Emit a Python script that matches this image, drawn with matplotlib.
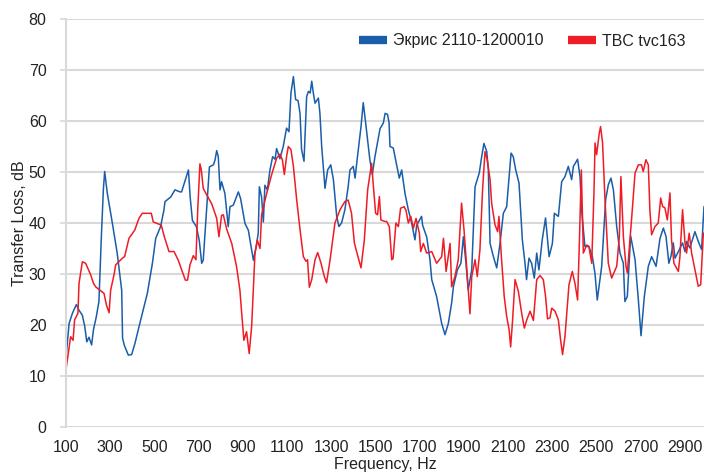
import matplotlib
matplotlib.use("Agg")
import matplotlib.pyplot as plt
from matplotlib.lines import Line2D

plt.rcParams["font.family"] = ["Liberation Sans", "DejaVu Sans"]

# Экрис 2110-1200010 (blue)
freq_ekris = [
    99, 114, 129, 147, 159, 174, 185, 194, 204, 216, 224, 237, 249, 260, 269, 275,
    287, 310, 332, 352, 356, 364, 382, 397, 412, 438, 468, 491, 506, 528, 543, 548,
    574, 593, 616, 623, 654, 662, 672, 690, 703, 714, 721, 736, 749, 767, 774, 782,
    789, 797, 804, 819, 834, 842, 857, 880, 890, 910, 925, 948, 960, 970, 975, 985,
    993, 1000, 1011, 1023, 1035, 1046, 1053, 1068, 1083, 1098, 1109, 1118, 1129,
    1139, 1150, 1159, 1166, 1177, 1189, 1197, 1205, 1212, 1219, 1227, 1242, 1249,
    1257, 1272, 1284, 1298, 1310, 1325, 1335, 1347, 1362, 1377, 1385, 1400, 1408,
    1420, 1435, 1445, 1456, 1475, 1486, 1498, 1521, 1536, 1544, 1555, 1562, 1566,
    1581, 1596, 1608, 1619, 1634, 1649, 1664, 1679, 1687, 1709, 1714, 1732, 1747,
    1755, 1777, 1800, 1815, 1830, 1845, 1853, 1871, 1887, 1898, 1910, 1920, 1936,
    1951, 1970, 1981, 1991, 2004, 2011, 2019, 2034, 2049, 2064, 2079, 2094, 2114,
    2124, 2135, 2150, 2165, 2177, 2184, 2195, 2207, 2219, 2230, 2240, 2255, 2270,
    2286, 2301, 2310, 2328, 2343, 2358, 2373, 2388, 2396, 2415, 2426, 2433, 2448,
    2466, 2482, 2494, 2504, 2524, 2542, 2554, 2566, 2577, 2592, 2607, 2622, 2629,
    2640, 2655, 2675, 2690, 2702, 2717, 2735, 2750, 2770, 2788, 2803, 2815, 2828,
    2837, 2848, 2856, 2871, 2890, 2901, 2908, 2923, 2946, 2961, 2976, 2987,
]
tl_ekris = [
    13.1, 20.3, 22.3, 24.0, 22.9, 21.9, 19.7, 16.7, 17.6, 16.1, 19.0, 21.6, 24.6, 37.3, 46.5, 50.1,
    45.8, 39.9, 34.0, 26.8, 17.4, 16.0, 14.1, 14.2, 16.4, 21.0, 26.2, 32.1, 37.0, 39.3, 42.5, 44.2,
    45.1, 46.5, 46.1, 46.1, 50.4, 45.0, 40.5, 39.3, 36.6, 32.1, 32.7, 42.5, 51.0, 51.4, 52.3, 54.2,
    53.0, 46.5, 48.1, 45.8, 39.3, 43.2, 43.5, 46.1, 44.8, 39.9, 38.6, 32.7, 35.3, 38.0, 47.1, 45.1,
    40.2, 47.4, 46.5, 50.4, 53.0, 52.5, 54.6, 52.6, 55.0, 58.6, 57.9, 65.5, 68.7,
    64.2, 64.0, 61.5, 54.4, 52.1, 64.8, 65.8, 65.5, 67.8, 65.5, 63.5, 64.5, 61.5,
    55.0, 46.8, 50.4, 51.4, 48.5, 41.3, 39.3, 40.0, 42.6, 47.2, 50.4, 51.1, 48.8,
    53.4, 58.9, 63.6, 59.6, 52.4, 49.5, 53.0, 58.5, 59.6, 61.5, 61.3, 59.6, 55.0,
    54.7, 51.4, 48.8, 50.4, 45.8, 42.6, 40.0, 36.7, 39.6, 41.3, 39.5, 37.3, 32.8,
    28.9, 25.6, 20.3, 18.1, 20.3, 24.3, 27.5, 30.8, 32.1, 37.3, 32.1, 26.9, 30.8,
    47.1, 49.8, 53.0, 55.6, 54.0, 50.5, 36.0, 33.4, 31.2, 36.0, 41.9, 43.2, 53.7,
    53.0, 50.4, 47.8, 36.7, 32.1, 28.9, 33.1, 32.1, 29.2, 34.1, 30.8, 36.7, 41.0,
    33.4, 36.0, 41.9, 41.3, 48.1, 49.1, 51.1, 48.5, 51.1, 52.5, 49.1, 42.6, 35.4,
    35.4, 33.4, 30.0, 24.9, 31.5, 44.6, 47.5, 48.8, 46.5, 39.3, 34.1, 32.1, 24.6,
    25.6, 37.5, 32.8, 24.9, 17.9, 25.6, 31.5, 33.4, 31.5, 37.0, 39.0, 37.4, 32.1,
    33.4, 36.1, 33.1, 34.4, 36.1, 34.4, 36.4, 35.1, 38.3, 36.4, 34.8, 43.2,
]

# TBC tvc163 (red)
freq_tbc = [
    99, 109, 121, 132, 139, 154, 159, 174, 189, 212, 224, 234, 254, 272, 283, 295,
    302, 317, 325, 355, 365, 385, 411, 430, 445, 486, 495, 531, 543, 566, 589, 608,
    628, 640, 650, 661, 676, 688, 696, 706, 712, 721, 733, 759, 782, 792, 804, 812,
    827, 850, 872, 887, 895, 905, 917, 929, 940, 955, 966, 978, 985, 1008, 1030,
    1053, 1068, 1079, 1088, 1098, 1106, 1118, 1129, 1144, 1159, 1174, 1186, 1193,
    1201, 1212, 1227, 1239, 1254, 1269, 1279, 1295, 1317, 1340, 1362, 1377, 1392,
    1405, 1415, 1435, 1450, 1465, 1483, 1491, 1501, 1510, 1518, 1525, 1543, 1551,
    1563, 1574, 1580, 1593, 1604, 1614, 1630, 1639, 1649, 1660, 1672, 1684, 1699,
    1705, 1717, 1732, 1755, 1777, 1800, 1808, 1820, 1838, 1845, 1860, 1875, 1890,
    1901, 1916, 1928, 1936, 1951, 1961, 1973, 1985, 1996, 2006, 2019, 2026, 2041,
    2053, 2059, 2071, 2083, 2094, 2105, 2112, 2120, 2132, 2147, 2162, 2174, 2185,
    2200, 2215, 2230, 2245, 2260, 2270, 2279, 2290, 2298, 2313, 2328, 2338, 2347,
    2358, 2376, 2391, 2403, 2415, 2423, 2432, 2441, 2456, 2466, 2479, 2489, 2494,
    2501, 2513, 2519, 2528, 2539, 2554, 2569, 2592, 2604, 2611, 2622, 2634, 2640,
    2659, 2675, 2690, 2704, 2712, 2724, 2735, 2742, 2750, 2765, 2780, 2791, 2800,
    2810, 2821, 2833, 2840, 2851, 2871, 2878, 2890, 2901, 2908, 2920, 2931, 2946,
    2961, 2972, 2984,
]
tl_tbc = [
    11.0, 14.1, 17.7, 17.0, 21.0, 22.3, 28.2, 32.4, 32.1, 29.8, 28.2, 27.5, 26.8, 26.2, 23.9, 22.4,
    26.8, 29.8, 31.8, 33.1, 33.4, 37.0, 38.6, 40.9, 41.9, 41.9, 40.2, 39.6, 37.6, 34.4, 34.4, 32.7,
    30.3, 28.8, 28.8, 31.8, 33.6, 32.8, 42.5, 51.6, 50.5, 46.8, 45.8, 43.8, 40.9, 37.3, 41.5, 41.6,
    38.8, 36.0, 31.4, 26.8, 22.3, 17.0, 18.7, 14.4, 19.7, 34.0, 36.6, 35.0, 41.6, 45.8, 49.4,
    52.7, 53.5, 52.4, 49.5, 53.0, 55.0, 54.4, 51.1, 44.5, 38.7, 33.4, 32.5, 32.8,
    27.4, 28.9, 32.8, 34.2, 32.1, 29.5, 28.3, 32.8, 40.0, 42.6, 44.2, 44.5, 41.9,
    36.1, 34.4, 31.2, 36.7, 46.5, 51.7, 47.2, 41.9, 41.6, 45.2, 40.6, 40.3, 40.3,
    39.3, 32.8, 33.0, 40.0, 39.3, 42.9, 43.2, 42.4, 40.0, 41.3, 39.0, 40.9, 38.0,
    34.4, 36.0, 34.1, 34.4, 32.1, 33.4, 37.0, 30.5, 36.0, 27.5, 29.5, 32.8, 43.9,
    38.7, 29.5, 22.2, 29.5, 32.8, 29.5, 34.7, 46.5, 54.0, 52.4, 48.5, 43.9, 39.7,
    38.3, 41.3, 32.8, 25.6, 21.7, 19.1, 15.7, 20.4, 28.9, 26.6, 22.3, 19.4, 21.0,
    22.7, 20.9, 28.9, 29.7, 28.9, 25.6, 21.2, 21.4, 23.3, 22.7, 21.0, 17.1, 14.2,
    17.8, 27.9, 30.5, 28.2, 24.9, 36.1, 50.4, 34.1, 35.7, 35.4, 32.1, 45.9, 55.7,
    53.4, 57.6, 58.9, 55.7, 44.6, 32.1, 29.2, 31.5, 37.4, 49.1, 37.4, 31.5, 30.2,
    40.6, 49.8, 51.4, 51.4, 50.1, 52.4, 51.4, 42.6, 37.7, 39.3, 40.0, 44.9, 43.2,
    43.0, 40.6, 45.9, 36.7, 32.1, 30.5, 33.4, 42.6, 36.1, 34.1, 38.0, 34.1, 30.8,
    27.6, 27.9, 38.0,
]

x_ticks = list(range(100, 3000, 200))
y_ticks = list(range(0, 90, 10))

BLUE = "#1a5ea9"
RED = "#ee1c25"
GRID = "#d9d9d9"
TEXT = "#222222"

fig = plt.figure(figsize=(7.04, 4.76), dpi=100)
ax = fig.add_axes([66 / 704, 49 / 476, 638 / 704, 408 / 476])

ax.plot(freq_ekris, tl_ekris, color=BLUE, lw=1.1)
ax.plot(freq_tbc, tl_tbc, color=RED, lw=1.1)

ax.set_xlim(100, 2987)
ax.set_ylim(0, 80)
ax.set_xticks(x_ticks)
ax.set_yticks(y_ticks)
ax.tick_params(axis="both", labelsize=11.5, colors=TEXT)
ax.tick_params(axis="x", length=0, pad=9)
ax.tick_params(axis="y", length=4, width=1.2, color=GRID, pad=10)
ax.grid(axis="y", color=GRID, lw=1.5)
ax.set_axisbelow(True)
for side in ("top", "right", "bottom"):
    ax.spines[side].set_visible(False)
ax.spines["left"].set_color(GRID)
ax.spines["left"].set_linewidth(1.5)

ax.set_xlabel("Frequency, Hz", fontsize=11.5, color=TEXT, labelpad=2)
ax.set_ylabel("Transfer Loss, dB", fontsize=11.5, color=TEXT)
ax.yaxis.set_label_coords(-39 / 638, 0.5)

handles = [
    Line2D([], [], color=BLUE, lw=6, solid_capstyle="butt"),
    Line2D([], [], color=RED, lw=6, solid_capstyle="butt"),
]
fig.legend(handles, ["Экрис 2110-1200010", "TBC tvc163"], loc="center left",
           bbox_to_anchor=(359 / 704, 1 - 41 / 476), ncol=2, frameon=False,
           fontsize=11.5, handlelength=1.75, handletextpad=0.4, columnspacing=1.5,
           borderpad=0, borderaxespad=0, labelcolor=TEXT)

fig.savefig("out.png", dpi=100)
